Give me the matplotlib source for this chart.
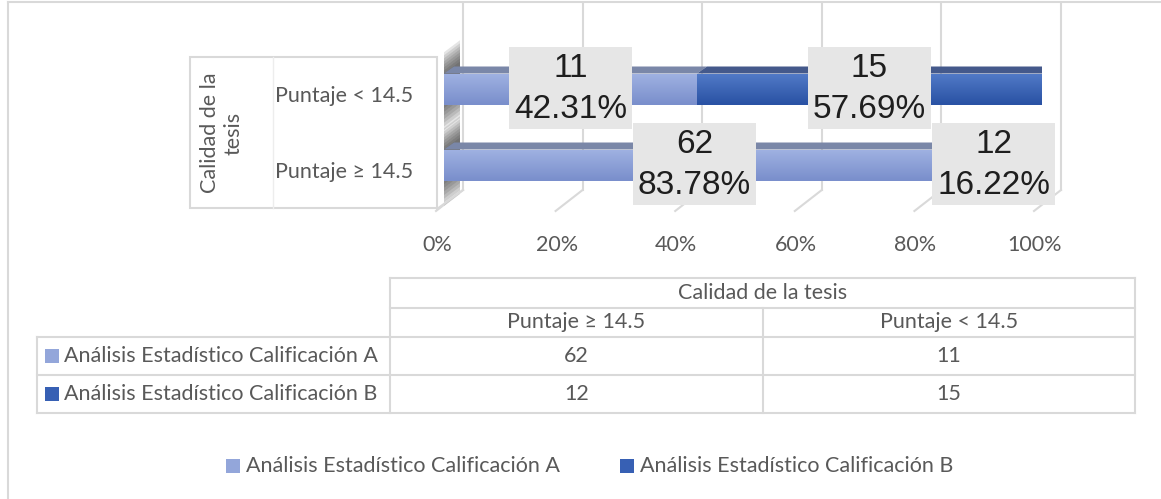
import numpy as np
import matplotlib.pyplot as plt
from matplotlib.patches import Rectangle, Polygon
from matplotlib.lines import Line2D
from matplotlib.transforms import ScaledTranslation, blended_transform_factory

# data
categories = ["Puntaje ≥ 14.5", "Puntaje < 14.5"]
series_names = ["Análisis Estadístico Calificación A",
                "Análisis Estadístico Calificación B"]
counts_a = [62, 11]
counts_b = [12, 15]
axis_title = "Calidad de la tesis"
ticks = [0, 0.2, 0.4, 0.6, 0.8, 1.0]
tick_labels = ["0%", "20%", "40%", "60%", "80%", "100%"]

W, H = 1161, 499
GRID = "#D9D9D9"
TXT = "#595959"
FONT = "Lato"
FS = 15.5

# series colours: front top, front bottom, top face, side face, legend
col_a = ("#A0B2E2", "#7A8FCC", "#7A87A8", "#5A6A98", "#93A6DA")
col_b = ("#527BC8", "#2A52A4", "#44598B", "#223C74", "#3760B4")


def fx(px):
    return px / W


def fy(py):
    return 1 - py / H


fig = plt.figure(figsize=(W / 100, H / 100), dpi=100)

# outer frame (only top and left edges are in the crop)
fig.add_artist(Line2D([fx(8), fx(8)], [fy(2), 0], color=GRID, lw=1.5))
fig.add_artist(Line2D([fx(8), 1], [fy(2), fy(2)], color=GRID, lw=1.5))

# plot area: front face from x=444 to 1042 px, y 3 to 211 px
left, right, top, bot = 444, 1042, 3, 211
ax = fig.add_axes([fx(left), fy(bot), fx(right - left), fy(top) - fy(bot)])
ppx = 1.0 / (right - left)        # data units per pixel (x)
ppy = 1.0 / 76                    # data units per pixel (y), rows 76 px apart


def py2y(py):
    return 1 + (89 - py) * ppy


ax.set_xlim(0, 1)
ax.set_ylim(py2y(bot), py2y(top))
for s in ax.spines.values():
    s.set_visible(False)
ax.set_yticks([])

# back wall gridlines + floor diagonals
y_back = py2y(190)
for t in ticks:
    ax.plot([t + 19 * ppx, t + 19 * ppx], [y_back, py2y(top)], color=GRID,
            lw=1.5, zorder=1, clip_on=False)
    ax.plot([t + 19 * ppx, t - 8 * ppx], [y_back, py2y(bot)], color=GRID,
            lw=1.5, zorder=1, clip_on=False)

# category panel
fig.add_artist(Rectangle((fx(190), fy(208)), fx(437 - 190), fy(57) - fy(208),
                         fill=False, ec=GRID, lw=1.5))
fig.add_artist(Line2D([fx(273), fx(273)], [fy(208), fy(57)], color="#EDEDED", lw=1))
fig.add_artist(Line2D([fx(437), fx(463)], [fy(209), fy(190)], color=GRID, lw=1.5))
fig.text(fx(222), fy(133), "Calidad de la\ntesis", rotation=90, ha="center",
         va="center", fontsize=FS, color=TXT, family=FONT, linespacing=1.25)

ypos = np.arange(len(categories))
a = np.array(counts_a, dtype=float)
b = np.array(counts_b, dtype=float)
tot = a + b
pa = a / tot
pb = b / tot
bh = 31 * ppy
ddx, ddy = 10 * ppx, 7 * ppy

# blurred shadow on the left wall
for i in ypos:
    for k in range(8):
        spread = 0.04 * k
        y0 = i - bh / 2 - spread * 1.2
        y1 = i + bh / 2 + spread
        ax.add_patch(Polygon([(0, y0), (0, y1), (16 * ppx, y1 + 12 * ppy),
                              (16 * ppx, y0 + 12 * ppy)], closed=True,
                             fc="#1A1A1A", ec="none", alpha=0.11, zorder=2))


def grad(ax, patch, ctop, cbot):
    c1 = np.array(plt.matplotlib.colors.to_rgb(ctop))
    c2 = np.array(plt.matplotlib.colors.to_rgb(cbot))
    t = np.linspace(0, 1, 64)[:, None]
    img = (c1 * (1 - t) + c2 * t)[:, None, :]
    x0, y0 = patch.get_x(), patch.get_y()
    im = ax.imshow(img, extent=[x0, x0 + patch.get_width(), y0,
                                y0 + patch.get_height()],
                   aspect="auto", origin="upper", zorder=3,
                   interpolation="bilinear")
    im.set_clip_path(patch)


bars_a = ax.barh(ypos, pa, height=bh, color=col_a[1], zorder=3)
bars_b = ax.barh(ypos, pb, left=pa, height=bh, color=col_b[1], zorder=3)
for bars, col in [(bars_a, col_a), (bars_b, col_b)]:
    for p in bars:
        grad(ax, p, col[0], col[1])
        x0, x1 = p.get_x(), p.get_x() + p.get_width()
        yt = p.get_y() + p.get_height()
        ax.add_patch(Polygon([(x0, yt), (x1, yt), (x1 + ddx, yt + ddy),
                              (x0 + ddx, yt + ddy)], closed=True,
                             fc=col[2], ec="none", zorder=3))
for p in bars_b:
    x1 = p.get_x() + p.get_width()
    y0, y1 = p.get_y(), p.get_y() + p.get_height()
    ax.add_patch(Polygon([(x1, y0), (x1, y1), (x1 + ddx, y1 + ddy),
                          (x1 + ddx, y0 + ddy)], closed=True,
                         fc=col_b[3], ec="none", zorder=3))

ax.set_xlim(0, 1)
ax.set_ylim(py2y(bot), py2y(top))

# value labels: grey box 123x82 px centred on each segment
bw, bhh = 1.23, 0.82
for i in ypos:
    for n, p, x0 in [(a[i], pa[i], 0), (b[i], pb[i], pa[i])]:
        xc = x0 + p / 2
        box_tr = fig.dpi_scale_trans + ScaledTranslation(xc, i + ppy, ax.transData)
        ax.add_patch(Rectangle((-bw / 2, -bhh / 2), bw, bhh, transform=box_tr,
                               fc="#E6E6E6", ec="none", zorder=9, clip_on=False))
        ax.text(xc, i, f"{int(n)}\n{p * 100:.2f}%", ha="center",
                va="center", fontsize=24, family="Liberation Sans",
                color="#1E1E1E", linespacing=1.4, zorder=10)

# category labels
tr = blended_transform_factory(ax.transAxes, ax.transData) + \
    ScaledTranslation(0, -7 / 100, fig.dpi_scale_trans)
for i, c in zip(ypos, categories):
    ax.text((413 - left) * ppx, i, c, transform=tr, ha="right", va="center",
            fontsize=FS, color=TXT, family=FONT)

# x tick labels
ax.set_xticks(ticks, tick_labels)
ax.tick_params(axis="x", length=0, pad=17, labelsize=FS, labelcolor=TXT)
for lab in ax.get_xticklabels():
    lab.set_family(FONT)
    lab.set_transform(lab.get_transform() +
                      ScaledTranslation(-7 / 100, 0, fig.dpi_scale_trans))

# data table
hl = [(278, 390, 1135), (308, 390, 1135), (337, 37, 1135), (375, 37, 1135),
      (413, 37, 1135)]
vl = [(37, 337, 413), (390, 278, 413), (763, 308, 413), (1135, 278, 413)]
for y, x0, x1 in hl:
    fig.add_artist(Line2D([fx(x0), fx(x1)], [fy(y), fy(y)], color=GRID, lw=1.5))
for x, y0, y1 in vl:
    fig.add_artist(Line2D([fx(x), fx(x)], [fy(y0), fy(y1)], color=GRID, lw=1.5))

col_cx = [576.5, 949]
fig.text(fx(762.5), fy(293), axis_title, ha="center", va="center", fontsize=FS,
         color=TXT, family=FONT)
for cx, c in zip(col_cx, categories):
    fig.text(fx(cx), fy(322), c, ha="center", va="center", fontsize=FS,
             color=TXT, family=FONT)
row_y = [356, 394]
for ry, name, vals, col in [(row_y[0], series_names[0], counts_a, col_a),
                            (row_y[1], series_names[1], counts_b, col_b)]:
    fig.add_artist(Rectangle((fx(45), fy(ry + 7)), fx(14), fy(ry - 7) - fy(ry + 7),
                             fc=col[4], ec="none"))
    fig.text(fx(64), fy(ry), name, ha="left", va="center", fontsize=FS,
             color=TXT, family=FONT)
    for cx, v in zip(col_cx, vals):
        fig.text(fx(cx), fy(ry), str(v), ha="center", va="center", fontsize=FS,
                 color=TXT, family=FONT)

# legend
for sx, name, col in [(226, series_names[0], col_a), (620, series_names[1], col_b)]:
    fig.add_artist(Rectangle((fx(sx), fy(473)), fx(14), fy(459) - fy(473),
                             fc=col[4], ec="none"))
    fig.text(fx(sx + 20), fy(466), name, ha="left", va="center", fontsize=FS,
             color=TXT, family=FONT)

fig.savefig("out.png", dpi=100)
